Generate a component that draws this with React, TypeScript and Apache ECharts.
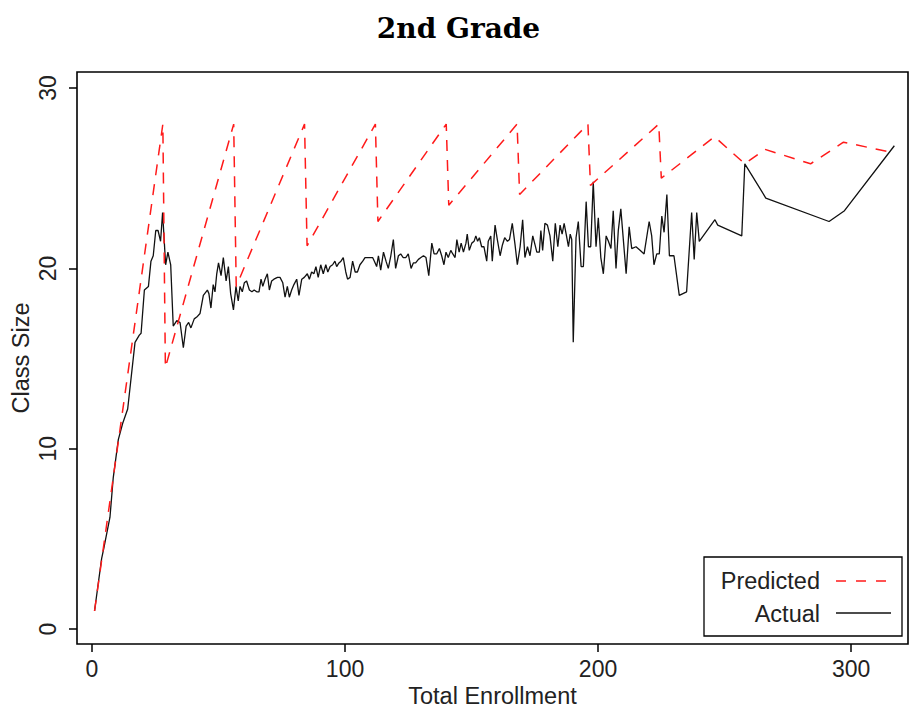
import React, { useEffect, useRef } from "react";
import * as echarts from "echarts";

const xTicks = [0, 100, 200, 300];
const yTicks = [0, 10, 20, 30];

const predicted: number[][] = [
  [1, 1], [28, 28], [29, 14.5], [56, 28], [57, 19], [84, 28], [85, 21.25],
  [112, 28], [113, 22.6], [140, 28], [141, 23.5], [168, 28], [169, 24.1],
  [196, 28], [197, 24.6], [224, 28], [225, 25], [246, 27.3], [258, 25.8],
  [266, 26.6], [284, 25.8], [297, 27], [317, 26.4],
];

const actual: number[][] = [
  [1, 1], [3.8, 3.9], [4.7, 4.5], [7.1, 6.2], [8.4, 8.4], [10.4, 10.5], [12.1, 11.4],
  [14.1, 12.2], [17, 15.9], [18.7, 16.3], [19.4, 16.4], [20.7, 18.8], [22.3, 19],
  [23.3, 20.4], [24.2, 20.7], [25.2, 22.1], [26.1, 22.1], [27.1, 21.5], [27.9, 23.1],
  [29.1, 20.2], [30, 20.9], [31.1, 20.2], [32.1, 16.8], [33.5, 17.1], [34.8, 17],
  [36.1, 15.6], [37.2, 16.8], [38.2, 17.0], [39.1, 16.7], [40.4, 17.2], [41.4, 17.3],
  [42.7, 17.5], [44, 18.5], [45.6, 18.8], [46.2, 18.6], [47, 17.8], [47.9, 19.1],
  [48.6, 18.7], [49.3, 19.7], [50, 20.3], [51, 19.6], [51.9, 20.6], [53, 19.3],
  [53.9, 20.1], [54.8, 18.6], [55.9, 17.7], [56.9, 19], [57.8, 18.2], [58.5, 19],
  [59.4, 18.7], [60.2, 19.2], [61.1, 19.3], [62.2, 18.8], [63.2, 18.7], [64.1, 18.8],
  [65.1, 18.7], [66, 18.7], [66.8, 19.4], [67.5, 19], [68.4, 19.4], [69.3, 19.7],
  [70.1, 18.8], [71, 19.3], [71.9, 19.4], [73.3, 19.5], [74.3, 19.5], [75.4, 19.2],
  [76.3, 18.4], [77.2, 19], [78, 18.4], [78.9, 18.8], [79.8, 19.1], [80.9, 19.4],
  [81.8, 18.5], [82.9, 19.4], [83.9, 19.5], [85.1, 19.7], [85.9, 19.4], [86.8, 19.8],
  [87.7, 19.7], [88.5, 20.1], [89.4, 19.5], [90.4, 20.2], [91.4, 19.7], [92.4, 20.2],
  [93.2, 19.8], [94.1, 20.1], [95.1, 20.2], [96, 20.4], [96.7, 20.1], [97.6, 20.3],
  [98.4, 20.4], [99.3, 20.6], [100.3, 19.8], [101, 19.4], [102, 19.5], [103, 20.4],
  [104, 19.8], [104.9, 19.8], [105.9, 20.2], [107, 20.4], [107.9, 20.6], [109, 20.6],
  [109.9, 20.6], [110.9, 20.6], [111.6, 20.4], [112.5, 20.1], [113.2, 20.7], [114.1, 19.9],
  [115.2, 20.9], [116.2, 20.4], [117.1, 20], [118.1, 20.7], [119.1, 21.6], [120, 20],
  [121.1, 20.7], [122, 20.8], [123, 20.6], [124, 20.6], [125, 20.8], [126.1, 20],
  [127, 20.3], [127.9, 20.3], [129, 20.5], [130, 20.6], [131, 20.7], [132, 20.6],
  [133.1, 19.6], [134.3, 21.4], [135.2, 20.8], [136.2, 20.8], [137.3, 21.1], [138.2, 20.7],
  [139.1, 20.2], [139.9, 20.9], [140.8, 20.6], [141.8, 21], [142.6, 20.8], [143.5, 20.6],
  [144.2, 21.6], [145.1, 20.9], [145.9, 21.4], [146.8, 20.9], [147.8, 21.4], [148.3, 21.9],
  [149.1, 21], [150.1, 21.4], [151, 21.5], [151.7, 21.8], [152.4, 21.5], [153.1, 21.7],
  [154, 21.2], [154.9, 21.2], [156, 20.4], [156.6, 21.5], [157.6, 21.8], [158.2, 20.4],
  [159.3, 22.4], [160.2, 21.6], [161.3, 20.7], [162.2, 21.3], [163.1, 21.7], [164.2, 21.5],
  [165, 21.6], [166.1, 22.5], [167.2, 21.3], [168.1, 20.2], [169.2, 21.2], [170.2, 22.7],
  [171.1, 20.6], [172.1, 21.2], [173.1, 20.7], [174.2, 21.8], [175.1, 21.3], [175.8, 20.9],
  [176.8, 20.9], [177.4, 22.1], [178.1, 21], [179, 22.5], [180, 22.4], [181, 21.8],
  [182.1, 20.4], [183.1, 22.5], [184.1, 21.2], [185, 22.4], [185.8, 21.9], [186.6, 22.5],
  [187.4, 21.9], [188.3, 21.2], [189, 21.9], [189.6, 21.6], [190.2, 15.9], [191.3, 21.7],
  [192.2, 22.6], [193.3, 20.1], [194.2, 20.1], [195.3, 23.7], [196.2, 21.2], [197.1, 21.2],
  [198.1, 24.8], [199.2, 21.2], [200.1, 22.8], [201.1, 20.6], [202.1, 19.7], [203.2, 21.8],
  [204.1, 21.5], [205.1, 21.1], [206, 23.2], [207.1, 20], [208, 22.1], [209, 23.3],
  [211.1, 19.7], [212.3, 22.3], [213.3, 21.1], [215, 21.2], [216.6, 21], [218.2, 20.8],
  [220.2, 22.6], [221.2, 21.8], [222.1, 20.2], [223.2, 20.8], [224.2, 20.8], [225.2, 22.9],
  [226.1, 22], [227.2, 24.1], [228.2, 20.7], [230, 20.7], [232.1, 18.5], [235, 18.7],
  [237, 23.1], [238, 20.5], [239, 23.1], [240, 21.5], [246.2, 22.7], [247.3, 22.4],
  [256.8, 21.8], [258, 25.8], [266.3, 23.9], [291.3, 22.6], [297.4, 23.2], [317.1, 26.8],
];

const SANS = "Liberation Sans, Arial, Helvetica, sans-serif";

export default function App() {
  const ref = useRef<HTMLDivElement>(null);
  useEffect(() => {
    if (!ref.current) return;
    const chart = echarts.init(ref.current, undefined, { renderer: "svg" });
    chart.setOption({
      animation: false,
      backgroundColor: "#ffffff",
      title: {
        text: "2nd Grade",
        left: "center",
        top: 9,
        textStyle: {
          fontFamily: "DejaVu Serif, serif",
          fontWeight: "bold",
          fontSize: 28,
          color: "#000",
        },
      },
      grid: {
        left: 77,
        right: 9,
        top: 72,
        bottom: 65,
        containLabel: false,
        outerBoundsMode: "none",
        show: true,
        borderColor: "#000",
        borderWidth: 1.6,
        backgroundColor: "transparent",
      },
      xAxis: {
        type: "value",
        min: -5.93,
        max: 322.5,
        name: "Total Enrollment",
        nameLocation: "middle",
        nameGap: 40,
        nameMoveOverlap: false,
        nameTextStyle: { fontFamily: SANS, fontSize: 23.5, color: "#222" },
        axisLine: { show: false, onZero: false },
        axisTick: {
          show: true,
          length: 8,
          customValues: xTicks,
          lineStyle: { color: "#000", width: 1.5 },
        },
        axisLabel: {
          customValues: xTicks,
          margin: 13,
          fontFamily: SANS,
          fontSize: 23,
          color: "#222",
        },
        splitLine: { show: false },
      },
      yAxis: {
        type: "value",
        min: -0.83,
        max: 30.89,
        name: "Class Size",
        nameLocation: "middle",
        nameGap: 44,
        nameMoveOverlap: false,
        nameTextStyle: { fontFamily: SANS, fontSize: 23.5, color: "#222" },
        axisLine: { show: false, onZero: false },
        axisTick: {
          show: true,
          length: 8,
          customValues: yTicks,
          lineStyle: { color: "#000", width: 1.5 },
        },
        axisLabel: {
          customValues: yTicks,
          rotate: 90,
          margin: 18,
          fontFamily: SANS,
          fontSize: 23,
          color: "#222",
        },
        splitLine: { show: false },
      },
      series: [
        {
          name: "Actual",
          type: "line",
          data: actual,
          symbol: "none",
          lineStyle: { color: "#111", width: 1.3 },
          z: 2,
        },
        {
          name: "Predicted",
          type: "line",
          data: predicted,
          symbol: "none",
          lineStyle: { color: "#ff1a1a", width: 1.5, type: [11, 9] },
          z: 3,
        },
      ],
      graphic: [
        {
          type: "rect",
          shape: { x: 704, y: 557, width: 198, height: 79 },
          style: { fill: "#fff", stroke: "#000", lineWidth: 1.3 },
          z: 10,
        },
        {
          type: "text",
          x: 820,
          y: 581,
          style: {
            text: "Predicted",
            align: "right",
            verticalAlign: "middle",
            font: `23.5px ${SANS}`,
            fill: "#222",
          },
          z: 11,
        },
        {
          type: "text",
          x: 820,
          y: 614,
          style: {
            text: "Actual",
            align: "right",
            verticalAlign: "middle",
            font: `23.5px ${SANS}`,
            fill: "#222",
          },
          z: 11,
        },
        {
          type: "line",
          shape: { x1: 836, y1: 581, x2: 891, y2: 581 },
          style: { stroke: "#ff1a1a", lineWidth: 1.5, lineDash: [10, 10] },
          z: 11,
        },
        {
          type: "line",
          shape: { x1: 836, y1: 613, x2: 891, y2: 613 },
          style: { stroke: "#111", lineWidth: 1.3 },
          z: 11,
        },
      ],
    });
    return () => chart.dispose();
  }, []);
  return (
    <div
      ref={ref}
      style={{ position: "absolute", left: 0, top: 0, width: 917, height: 709 }}
    />
  );
}
